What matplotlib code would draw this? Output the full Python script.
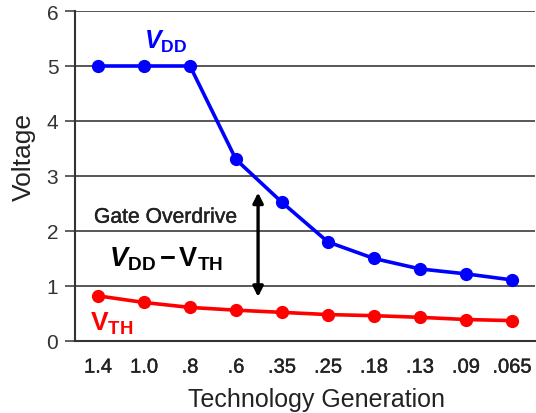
import matplotlib
matplotlib.use("Agg")
from matplotlib import pyplot as plt
from matplotlib import patheffects as pe

generations = ["1.4", "1.0", ".8", ".6", ".35", ".25", ".18", ".13", ".09", ".065"]
vdd = [5.0, 5.0, 5.0, 3.3, 2.52, 1.8, 1.5, 1.31, 1.22, 1.11]
vth = [0.82, 0.70, 0.61, 0.56, 0.52, 0.48, 0.46, 0.43, 0.39, 0.37]

plt.rcParams['font.family'] = ['Liberation Sans', 'DejaVu Sans']
plt.rcParams['mathtext.fontset'] = 'custom'
plt.rcParams['mathtext.rm'] = 'Liberation Sans'
plt.rcParams['mathtext.bf'] = 'Liberation Sans:bold'
plt.rcParams['mathtext.it'] = 'Liberation Sans:italic'
plt.rcParams['mathtext.bfit'] = 'Liberation Sans:bold:italic'

# slightly heavier than regular, like the source rendering
semibold = [pe.withStroke(linewidth=0.3, foreground="#222222")]

fig = plt.figure(figsize=(5.36, 4.14), dpi=100)
ax = fig.add_axes([0.14, 0.174, 0.858, 0.797])

x = range(len(generations))
ax.plot(x, vdd, color="#0000ff", lw=2.6, marker="o", ms=8.5, zorder=3)
ax.plot(x, vth, color="#ff0000", lw=2.6, marker="o", ms=8.5, zorder=3)

ax.set_xlim(-0.5, 9.5)
ax.set_ylim(0, 6)
ax.set_yticks(range(7))
ax.set_xticks(list(x))
ax.set_xticklabels(generations, fontsize=14.5, color="#222222")
for t in ax.get_xticklabels():
    t.set_path_effects(semibold)
ax.tick_params(axis="x", length=0, pad=12)
ax.tick_params(axis="y", labelsize=15, labelcolor="#333333", length=7, width=1.2,
               direction="out", color="#444444", pad=5)
ax.grid(axis="y", color="#4a4a4a", lw=1.3)
ax.set_axisbelow(True)
for s in ["top", "right"]:
    ax.spines[s].set_visible(False)
ax.spines["left"].set_linewidth(1.5)
ax.spines["left"].set_color("#333333")
ax.spines["bottom"].set_linewidth(1.5)
ax.spines["bottom"].set_color("#333333")

ax.set_ylabel("Voltage", fontsize=19, color="#222222")
ax.yaxis.set_label_coords(-0.085, 0.56)
ax.set_xlabel("Technology Generation", fontsize=18, color="#222222")
ax.xaxis.set_label_coords(0.524, -0.14)

ax.text(1.47, 5.45, r"$\mathbfit{V}_{\mathbf{DD}}$", color="#0000ff", fontsize=18,
        ha="center", va="center")
ax.text(0.3, 0.32, r"$\mathbf{V}_{\mathbf{TH}}$", color="#ff0000", fontsize=19,
        ha="center", va="center")
ax.text(1.47, 2.25, "Gate Overdrive", fontsize=15.2, color="#222222",
        ha="center", va="center", path_effects=semibold)
ax.text(1.47, 1.5, r"$\mathbfit{V}_{\mathbf{DD}}\,\mathbf{-}\,\mathbf{V}_{\mathbf{TH}}$",
        fontsize=19.5, ha="center", va="center")
ax.annotate("", xy=(3.48, 2.75), xytext=(3.48, 0.75),
            arrowprops=dict(arrowstyle="<|-|>", color="black", lw=2.4, mutation_scale=15))

fig.savefig("out.png", dpi=100)
